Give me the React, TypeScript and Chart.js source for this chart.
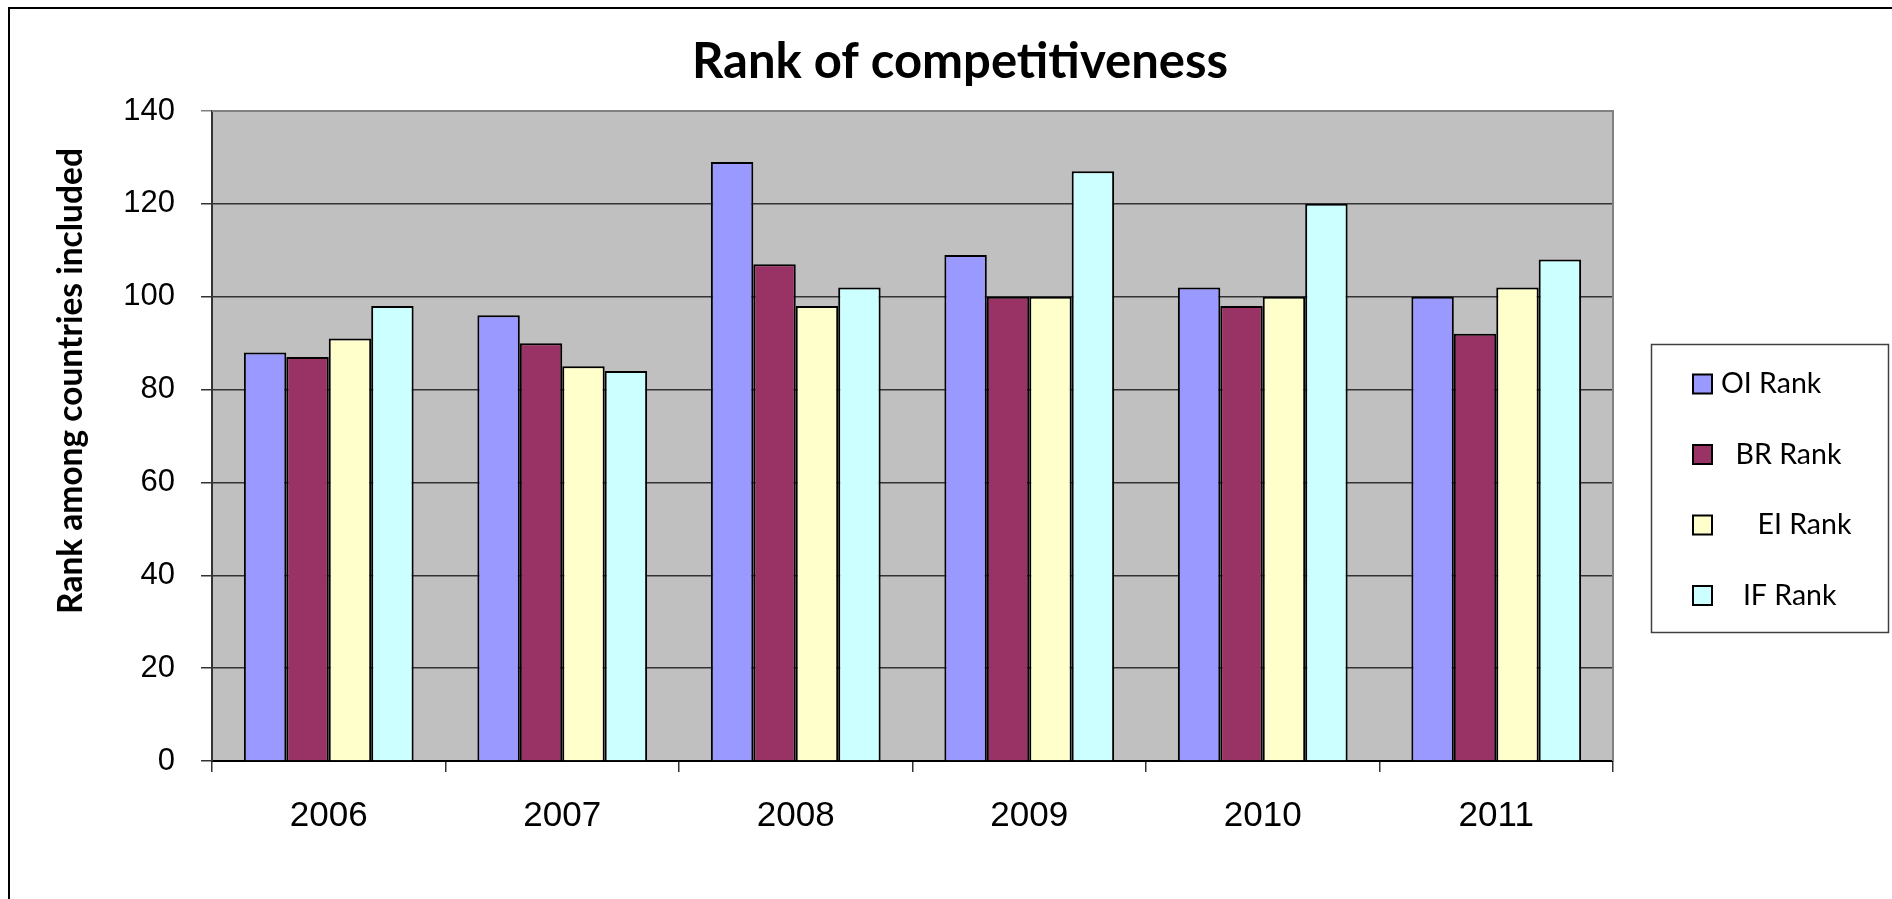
import React, { useEffect, useRef } from "react";
import { Chart, registerables } from "chart.js";

Chart.register(...registerables);

const categories = ["2006", "2007", "2008", "2009", "2010", "2011"];
const oiRank = [88, 96, 129, 109, 102, 100];
const brRank = [87, 90, 107, 100, 98, 92];
const eiRank = [91, 85, 98, 100, 100, 102];
const ifRank = [98, 84, 102, 127, 120, 108];
const seriesLabels = ["OI Rank", "  BR Rank", "     EI Rank", "   IF Rank"];
const seriesColors = ["#9999FF", "#993366", "#FFFFCC", "#CCFFFF"];
const titleText = "Rank of competitiveness";
const yTitleText = "Rank among countries included";
const yMin = 0;
const yMax = 140;
const yStep = 20;

const W = 1892;
const H = 899;

const framePlugin = {
  id: "frameAndBg",
  beforeDraw(chart: any) {
    const { ctx, chartArea } = chart;
    ctx.save();
    ctx.fillStyle = "#ffffff";
    ctx.fillRect(0, 0, chart.width, chart.height);
    // outer frame (left and top visible, right/bottom run off the picture)
    ctx.strokeStyle = "#000000";
    ctx.lineWidth = 2;
    ctx.beginPath();
    ctx.moveTo(9, chart.height + 5);
    ctx.lineTo(9, 8);
    ctx.lineTo(chart.width + 5, 8);
    ctx.stroke();
    // plot background
    ctx.fillStyle = "#C0C0C0";
    ctx.fillRect(chartArea.left, chartArea.top, chartArea.right - chartArea.left, chartArea.bottom - chartArea.top);
    ctx.restore();
  },
  afterDraw(chart: any) {
    const { ctx, chartArea } = chart;
    ctx.save();
    // plot border top/right (grey)
    ctx.strokeStyle = "#808080";
    ctx.lineWidth = 2;
    ctx.beginPath();
    ctx.moveTo(chartArea.left, chartArea.top);
    ctx.lineTo(chartArea.right, chartArea.top);
    ctx.lineTo(chartArea.right, chartArea.bottom);
    ctx.stroke();

    // title
    ctx.fillStyle = "#000000";
    ctx.font = "bold 49px Lato";
    ctx.textAlign = "center";
    ctx.textBaseline = "middle";
    ctx.fillText(titleText, 960, 62);

    // y axis title
    ctx.save();
    ctx.translate(71, 381);
    ctx.rotate(-Math.PI / 2);
    ctx.font = "bold 33.5px Lato";
    ctx.textAlign = "center";
    ctx.textBaseline = "middle";
    ctx.fillText(yTitleText, 0, 0);
    ctx.restore();

    // legend
    const lx = 1651, ly = 344, lw = 237, lh = 288;
    ctx.strokeStyle = "#404040";
    ctx.lineWidth = 1.5;
    ctx.strokeRect(lx + 0.5, ly + 0.5, lw, lh);
    const ds = chart.data.datasets;
    ctx.font = "28.5px Lato";
    ctx.textAlign = "left";
    ctx.textBaseline = "middle";
    for (let i = 0; i < ds.length; i++) {
      const cy = ly + 40 + i * 70.5;
      ctx.fillStyle = ds[i].backgroundColor;
      ctx.fillRect(1693, cy - 9.5, 19, 19);
      ctx.strokeStyle = "#000000";
      ctx.lineWidth = 2;
      ctx.strokeRect(1693, cy - 9.5, 19, 19);
      ctx.fillStyle = "#000000";
      ctx.fillText(ds[i].label, 1721, cy);
    }
    ctx.restore();
  },
};

export default function App() {
  const ref = useRef<HTMLCanvasElement | null>(null);

  useEffect(() => {
    if (!ref.current) return;
    const series = [oiRank, brRank, eiRank, ifRank];
    const chart = new Chart(ref.current, {
      type: "bar",
      data: {
        labels: categories,
        datasets: series.map((d, i) => ({
          label: seriesLabels[i],
          data: d,
          backgroundColor: seriesColors[i],
          borderColor: "#000000",
          borderWidth: 2,
          categoryPercentage: 0.727,
          barPercentage: 1.0,
        })),
      },
      options: {
        responsive: false,
        animation: false,
        devicePixelRatio: 1,
        layout: { padding: { top: 111, right: 279, bottom: 0, left: 0 } },
        plugins: {
          legend: { display: false },
          title: { display: false },
          tooltip: { enabled: false },
        },
        scales: {
          x: {
            offset: true,
            grid: {
              offset: true,
              drawOnChartArea: false,
              drawTicks: true,
              tickLength: 11,
              color: "#333333",
              lineWidth: 1.5,
            },
            border: { display: true, color: "#000000", width: 2 },
            ticks: {
              color: "#000000",
              font: { family: "Liberation Sans", size: 35 },
              padding: 23,
              maxRotation: 0,
            },
            afterFit(scale: any) {
              scale.height = 138;
            },
          },
          y: {
            min: yMin,
            max: yMax,
            ticks: {
              stepSize: yStep,
              color: "#000000",
              font: { family: "Liberation Sans", size: 31 },
              padding: 26,
            },
            grid: {
              color: (c: any) => (c.tick && c.tick.value === yMax ? "#808080" : "#333333"),
              lineWidth: 1.5,
              tickLength: 11,
              drawTicks: true,
            },
            border: { display: true, color: "#333333", width: 2 },
            afterFit(scale: any) {
              scale.width = 212;
            },
          },
        },
      },
      plugins: [framePlugin],
    });
    return () => chart.destroy();
  }, []);

  return (
    <div style={{ position: "fixed", left: 0, top: 0, width: W, height: H, background: "#fff" }}>
      <canvas ref={ref} width={W} height={H} style={{ display: "block", width: W, height: H }} />
    </div>
  );
}
